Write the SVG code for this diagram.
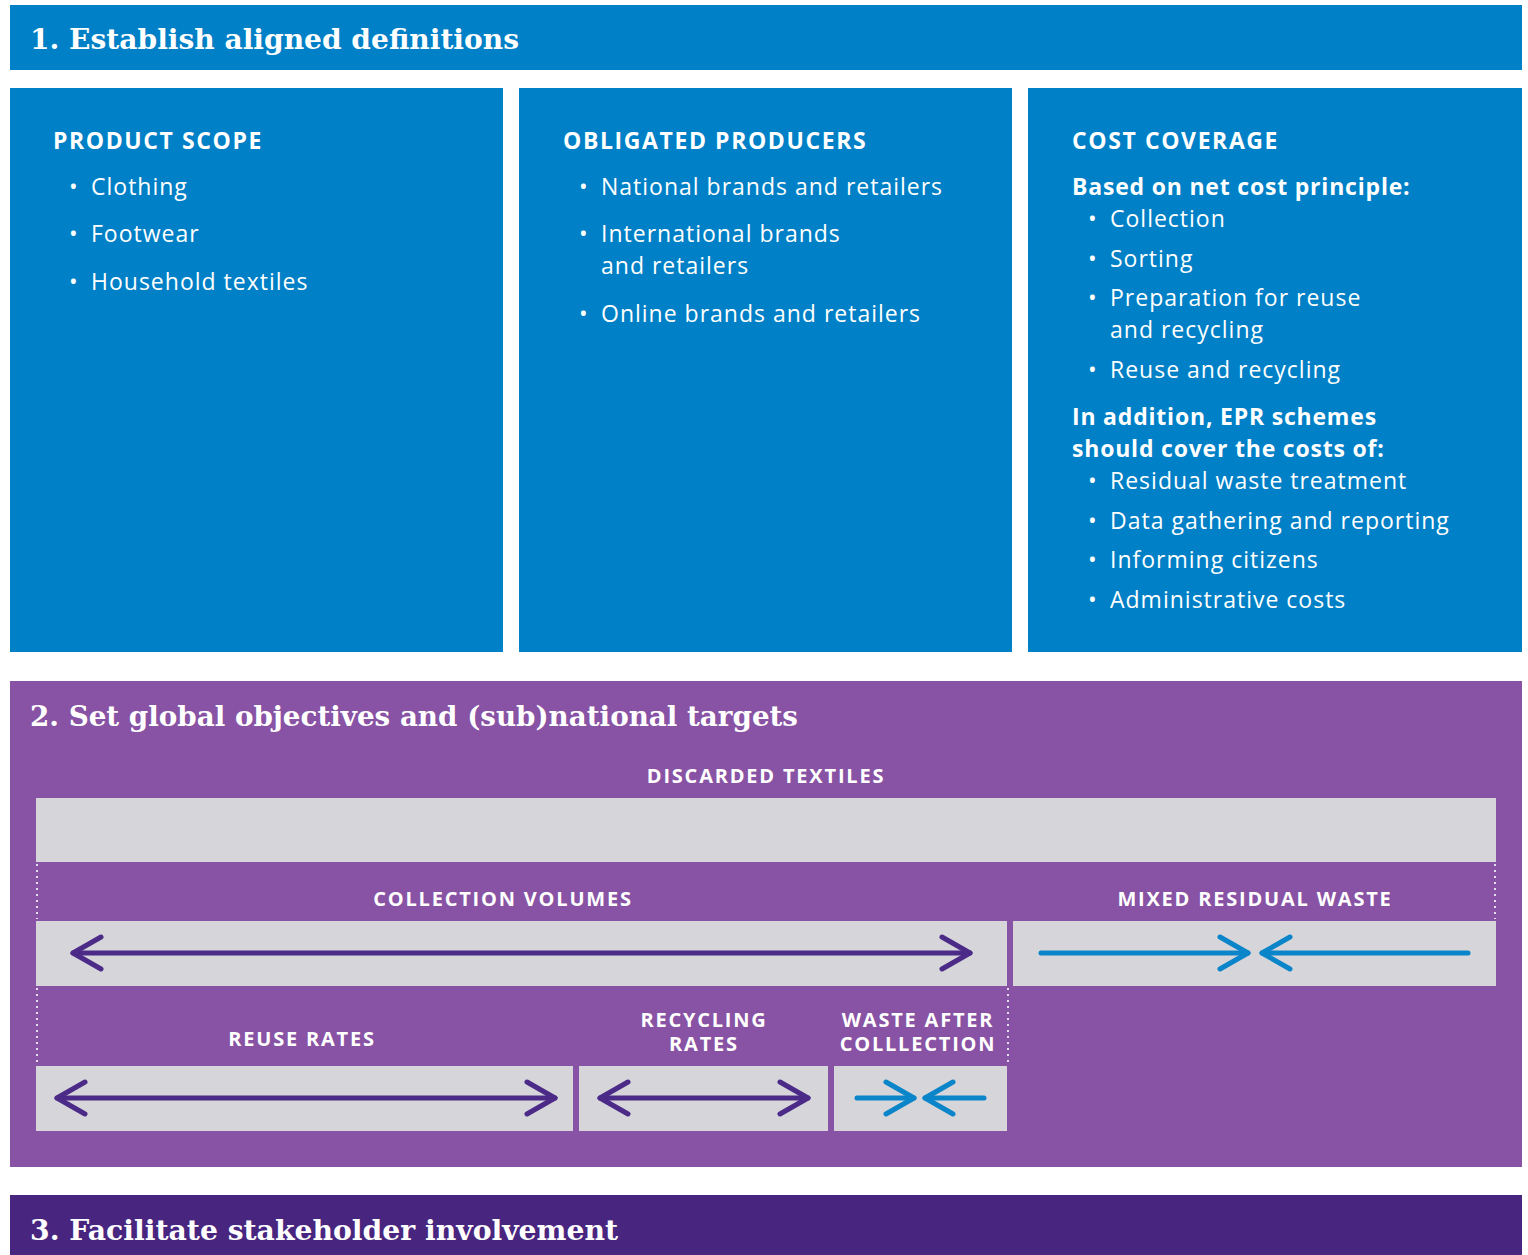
<svg xmlns="http://www.w3.org/2000/svg" width="1528" height="1255" viewBox="0 0 1528 1255">
<style>
.blue{fill:#0080C6}
.purple{fill:#8853A4}
.dark{fill:#48257F}
.gray{fill:#D6D5DA}
.h{font-family:"DejaVu Serif","Liberation Serif",serif;fill:#fff;font-size:28px;font-weight:700}
.cap{font-family:"Open Sans","Noto Sans",sans-serif;font-weight:700;fill:#fff;font-size:23px;letter-spacing:1.6px}
.t{font-family:"Open Sans","Noto Sans",sans-serif;fill:#fff;font-size:23px;letter-spacing:1px}
.tb{font-family:"Open Sans","Noto Sans",sans-serif;fill:#fff;font-size:23px;font-weight:700;letter-spacing:0.8px}
.lab{font-family:"Open Sans","Noto Sans",sans-serif;font-weight:700;fill:#fff;font-size:20px;letter-spacing:1.8px;text-anchor:middle}
.dot{stroke:#E4DDEA;stroke-width:2;stroke-dasharray:2 4;fill:none}
.ap{stroke:#4B2A88;stroke-width:5;stroke-linecap:round;fill:none}
.ab{stroke:#0A85CA;stroke-width:5;stroke-linecap:round;fill:none}
</style>
<defs>
<marker id="hp" markerUnits="userSpaceOnUse" viewBox="-34 -22 40 44" markerWidth="40" markerHeight="44" refX="0" refY="0" orient="auto-start-reverse" overflow="visible">
<path d="M-28,-16 L0,0 L-28,16" fill="none" stroke="#4B2A88" stroke-width="5" stroke-linecap="round" stroke-linejoin="round"/>
</marker>
<marker id="hb" markerUnits="userSpaceOnUse" viewBox="-34 -22 40 44" markerWidth="40" markerHeight="44" refX="0" refY="0" orient="auto-start-reverse" overflow="visible">
<path d="M-28,-16 L0,0 L-28,16" fill="none" stroke="#0A85CA" stroke-width="5" stroke-linecap="round" stroke-linejoin="round"/>
</marker>
</defs>

<g id="section1">
<rect class="blue" x="10" y="5" width="1512" height="65"/>
<text class="h" x="30" y="49" textLength="489" lengthAdjust="spacingAndGlyphs">1. Establish aligned definitions</text>
</g>

<g id="product-scope">
<rect class="blue" x="10" y="88" width="493" height="564"/>
<text class="cap" x="53" y="149">PRODUCT SCOPE</text>
<text class="t" x="69" y="195">•</text><text class="t" x="91" y="195">Clothing</text>
<text class="t" x="69" y="242">•</text><text class="t" x="91" y="242">Footwear</text>
<text class="t" x="69" y="290">•</text><text class="t" x="91" y="290">Household textiles</text>
</g>

<g id="obligated-producers">
<rect class="blue" x="519" y="88" width="493" height="564"/>
<text class="cap" x="563" y="149">OBLIGATED PRODUCERS</text>
<text class="t" x="579" y="195">•</text><text class="t" x="601" y="195">National brands and retailers</text>
<text class="t" x="579" y="242">•</text><text class="t" x="601" y="242">International brands</text>
<text class="t" x="601" y="274">and retailers</text>
<text class="t" x="579" y="322">•</text><text class="t" x="601" y="322">Online brands and retailers</text>
</g>

<g id="cost-coverage">
<rect class="blue" x="1028" y="88" width="494" height="564"/>
<text class="cap" x="1072" y="149">COST COVERAGE</text>
<text class="tb" x="1072" y="195">Based on net cost principle:</text>
<text class="t" x="1088" y="227">•</text><text class="t" x="1110" y="227">Collection</text>
<text class="t" x="1088" y="267">•</text><text class="t" x="1110" y="267">Sorting</text>
<text class="t" x="1088" y="306">•</text><text class="t" x="1110" y="306">Preparation for reuse</text>
<text class="t" x="1110" y="338">and recycling</text>
<text class="t" x="1088" y="378">•</text><text class="t" x="1110" y="378">Reuse and recycling</text>
<text class="tb" x="1072" y="425">In addition, EPR schemes</text>
<text class="tb" x="1072" y="457">should cover the costs of:</text>
<text class="t" x="1088" y="489">•</text><text class="t" x="1110" y="489">Residual waste treatment</text>
<text class="t" x="1088" y="529">•</text><text class="t" x="1110" y="529">Data gathering and reporting</text>
<text class="t" x="1088" y="568">•</text><text class="t" x="1110" y="568">Informing citizens</text>
<text class="t" x="1088" y="608">•</text><text class="t" x="1110" y="608">Administrative costs</text>
</g>

<g id="section2">
<rect class="purple" x="10" y="681" width="1512" height="486"/>
<text class="h" x="30" y="726" textLength="768" lengthAdjust="spacingAndGlyphs">2. Set global objectives and (sub)national targets</text>
</g>

<g id="discarded-textiles">
<text class="lab" x="766" y="783">DISCARDED TEXTILES</text>
<rect class="gray" x="36" y="798" width="1460" height="64"/>
</g>

<g id="collection-volumes">
<text class="lab" x="503" y="906">COLLECTION VOLUMES</text>
<rect class="gray" x="36" y="921" width="971" height="65"/>
</g>

<g id="mixed-residual-waste">
<text class="lab" x="1255" y="906">MIXED RESIDUAL WASTE</text>
<rect class="gray" x="1013" y="921" width="483" height="65"/>
</g>

<g id="reuse-rates">
<text class="lab" x="302" y="1046">REUSE RATES</text>
<rect class="gray" x="36" y="1066" width="537" height="65"/>
</g>

<g id="recycling-rates">
<text class="lab" x="704" y="1027">RECYCLING</text>
<text class="lab" x="704" y="1051">RATES</text>
<rect class="gray" x="579" y="1066" width="249" height="65"/>
</g>

<g id="waste-after-collection">
<text class="lab" x="918" y="1027">WASTE AFTER</text>
<text class="lab" x="918" y="1051">COLLLECTION</text>
<rect class="gray" x="834" y="1066" width="173" height="65"/>
</g>

<g id="section3">
<rect class="dark" x="10" y="1195" width="1512" height="60"/>
<text class="h" x="30" y="1240" textLength="588" lengthAdjust="spacingAndGlyphs">3. Facilitate stakeholder involvement</text>
</g>

<g id="connectors">
<path class="dot" d="M37,864 V919 M1495,864 V919 M37,988 V1064 M1008,988 V1064"/>
<path class="ap" d="M73,953 H970" marker-start="url(#hp)" marker-end="url(#hp)"/>
<path class="ab" d="M1041,953 H1248" marker-end="url(#hb)"/>
<path class="ab" d="M1468,953 H1262" marker-end="url(#hb)"/>
<path class="ap" d="M57,1098 H555" marker-start="url(#hp)" marker-end="url(#hp)"/>
<path class="ap" d="M600,1098 H808" marker-start="url(#hp)" marker-end="url(#hp)"/>
<path class="ab" d="M857,1098 H914" marker-end="url(#hb)"/>
<path class="ab" d="M984,1098 H925" marker-end="url(#hb)"/>
</g>
</svg>
